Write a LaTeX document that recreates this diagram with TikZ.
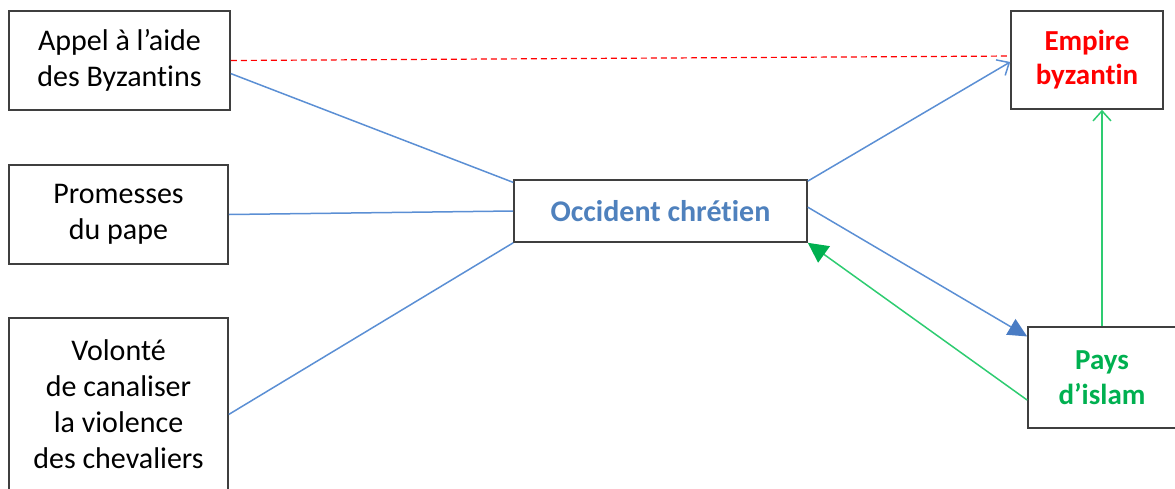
\documentclass[tikz,border=0pt]{standalone}
\usepackage{fontspec}
\setmainfont{Carlito}[Ligatures=NoCommon]
\usetikzlibrary{arrows.meta,calc}
\definecolor{boxline}{HTML}{3F3F3F}
\definecolor{linkblue}{HTML}{5B8FD4}
\definecolor{tipblue}{HTML}{4A7CC4}
\definecolor{linkgreen}{HTML}{2ECC71}
\definecolor{arrowgreen}{HTML}{00B050}
\definecolor{titleblue}{HTML}{4F81BD}
\definecolor{islamgreen}{HTML}{00B050}
\begin{document}
\begin{tikzpicture}[x=1pt,y=-1pt,
  box/.style={draw=boxline,line width=1.6pt,rectangle,align=center,inner sep=0pt,
    font=\fontsize{30}{36}\selectfont},
  bluelink/.style={draw=linkblue,line width=1.5pt},
  greenlink/.style={draw=linkgreen,line width=1.5pt}]
\useasboundingbox (0,0) rectangle (1175,488);
% cause boxes on the left
\node[box,minimum width=221pt,minimum height=99pt] (appel) at (119.5,60.5)
  {Appel à l’aide\\des Byzantins};
\node[box,minimum width=219pt,minimum height=99pt] (pape) at (118.5,214.5)
  {Promesses\\du pape};
\node[box,minimum width=219pt,minimum height=172pt] (violence) at (118.5,404)
  {Volonté\\de canaliser\\la violence\\des chevaliers};
% central node
\node[box,minimum width=293pt,minimum height=62pt,text=titleblue,font=\fontsize{30}{36}\selectfont\bfseries]
  (occident) at (660.5,211) {Occident chrétien};
% destinations on the right
\node[box,minimum width=152pt,minimum height=98pt,text=red,font=\fontsize{29}{34}\selectfont\bfseries]
  (empire) at (1087,60) {Empire\\byzantin};
\node[box,minimum width=148pt,minimum height=101pt,text=islamgreen,font=\fontsize{29}{35}\selectfont\bfseries]
  (islam) at (1102,377.5) {Pays\\d’islam};
% connectors from the causes
\draw[bluelink] ($(appel.north east)!0.63!(appel.south east)$) -- ($(occident.north west)!0.05!(occident.south west)$);
\draw[bluelink] (pape.east) -- (occident.west);
\draw[bluelink] ($(violence.north east)!0.56!(violence.south east)$) -- (occident.south west);
% dashed link between the appeal and the empire
\draw[red,dashed,line width=1.2pt,dash pattern=on 6pt off 4pt] (appel.east) -- ($(empire.north west)!0.46!(empire.south west)$);
% arrows leaving the west
\draw[bluelink,-{Straight Barb[length=10pt,width=18pt,line width=1.5pt]}]
  ($(occident.north east)!0.03!(occident.south east)$) -- ($(empire.north west)!0.52!(empire.south west)$);
\draw[bluelink,-{Triangle[length=19pt,width=18pt,fill=tipblue,color=tipblue]}]
  ($(occident.north east)!0.44!(occident.south east)$) -- ($(islam.north west)!0.1!(islam.south west)$);
% arrows coming back from Islam
\draw[greenlink,-{Triangle[length=20pt,width=20pt,fill=arrowgreen,color=arrowgreen]}]
  ($(islam.north west)!0.72!(islam.south west)$) -- (occident.south east);
\draw[greenlink,-{Straight Barb[length=10pt,width=18pt,line width=1.5pt]}]
  (islam.north) -- (islam.north |- empire.south);
\end{tikzpicture}
\end{document}
